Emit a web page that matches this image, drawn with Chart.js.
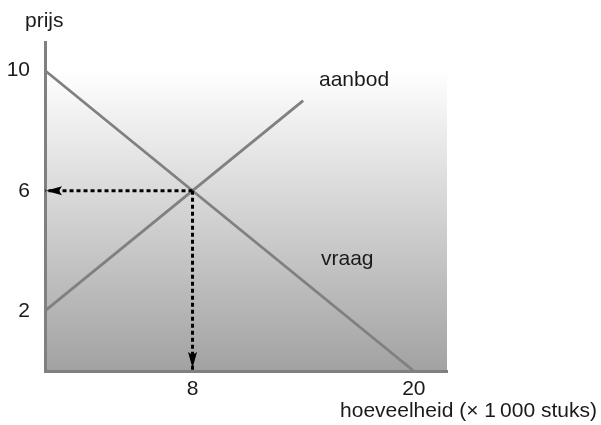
<!DOCTYPE html>
<html>
<head>
<meta charset="utf-8">
<script src="https://cdn.jsdelivr.net/npm/chart.js@4"></script>
<style>
  html, body { margin: 0; padding: 0; background: #ffffff; }
  #wrap { width: 601px; height: 425px; position: relative; }
</style>
</head>
<body>
<div id="wrap"><canvas id="c" width="601" height="425"></canvas></div>
<script>
// ---- data ----
const demandQ = [0, 20];
const demandP = [10, 0];
const supplyQ = [0, 14];
const supplyP = [2, 9];
const equilibrium = [8, 6];           // [quantity, price]
const xTicks = [8, 20];
const yTicks = [2, 6, 10];
const curveNames = ['aanbod', 'vraag'];
const yTitle = 'prijs';
const xTitle = 'hoeveelheid (\u00d7 1\u2009000 stuks)';

const FONT = '"Liberation Sans", Arial, Helvetica, sans-serif';
const LINE_GRAY = '#808080';
const TEXT = '#1a1a1a';

const toPts = (xs, ys) => xs.map((x, i) => ({ x: x, y: ys[i] }));

const gradientPlugin = {
  id: 'bgGradient',
  beforeDraw(chart) {
    const { ctx, chartArea, scales } = chart;
    const top = scales.y.getPixelForValue(10);
    const g = ctx.createLinearGradient(0, top, 0, chartArea.bottom);
    g.addColorStop(0, '#ffffff');
    g.addColorStop(1, '#a2a2a2');
    ctx.save();
    ctx.fillStyle = g;
    ctx.fillRect(chartArea.left, top, chartArea.right - chartArea.left, chartArea.bottom - top);
    ctx.restore();
  }
};

function arrowHead(ctx, tx, ty, dx, dy) {
  const len = 16, half = 4.5, notch = 3;
  const px = -dy, py = dx;
  ctx.beginPath();
  ctx.moveTo(tx, ty);
  ctx.lineTo(tx - dx * len + px * half, ty - dy * len + py * half);
  ctx.lineTo(tx - dx * (len - notch), ty - dy * (len - notch));
  ctx.lineTo(tx - dx * len - px * half, ty - dy * len - py * half);
  ctx.closePath();
  ctx.fill();
}

const annotPlugin = {
  id: 'annot',
  afterDatasetsDraw(chart) {
    const { ctx, scales } = chart;
    const x = scales.x, y = scales.y;
    ctx.save();
    ctx.fillStyle = '#000000';
    arrowHead(ctx, x.getPixelForValue(0) + 1, y.getPixelForValue(equilibrium[1]), -1, 0);
    arrowHead(ctx, x.getPixelForValue(equilibrium[0]), y.getPixelForValue(0) - 3, 0, 1);

    ctx.fillStyle = TEXT;
    ctx.font = '21px ' + FONT;
    ctx.textBaseline = 'alphabetic';
    ctx.textAlign = 'left';
    ctx.fillText(yTitle, 25, 27);
    ctx.fillText(curveNames[0], 319, 86);
    ctx.fillText(curveNames[1], 321, 265);
    ctx.textAlign = 'right';
    ctx.fillText(xTitle, 597, 417);
    ctx.restore();
  }
};

new Chart(document.getElementById('c'), {
  type: 'scatter',
  data: {
    datasets: [
      {
        label: 'p*',
        data: toPts([equilibrium[0], 0], [equilibrium[1], equilibrium[1]]),
        showLine: true, borderColor: '#000000', borderWidth: 3,
        borderDash: [4, 3], pointRadius: 0
      },
      {
        label: 'q*',
        data: toPts([equilibrium[0], equilibrium[0]], [equilibrium[1], 0]),
        showLine: true, borderColor: '#000000', borderWidth: 3,
        borderDash: [4, 3], pointRadius: 0
      },
      {
        label: curveNames[0],
        data: toPts(supplyQ, supplyP),
        showLine: true, borderColor: LINE_GRAY, borderWidth: 2.8, pointRadius: 0
      },
      {
        label: curveNames[1],
        data: toPts(demandQ, demandP),
        showLine: true, borderColor: LINE_GRAY, borderWidth: 2.8, pointRadius: 0
      }
    ]
  },
  options: {
    responsive: false,
    animation: false,
    devicePixelRatio: 1,
    layout: { padding: { top: 42, right: 154, bottom: 0, left: 0 } },
    plugins: { legend: { display: false }, tooltip: { enabled: false } },
    scales: {
      x: {
        type: 'linear', min: 0, max: 21.8,
        afterBuildTicks: s => { s.ticks = xTicks.map(v => ({ value: v })); },
        afterFit: s => { s.height = 54; },
        grid: { display: false, drawTicks: false },
        border: { display: true, color: LINE_GRAY, width: 3 },
        ticks: { padding: 6, color: TEXT, font: { family: FONT, size: 21 }, maxRotation: 0, autoSkip: false }
      },
      y: {
        type: 'linear', min: 0, max: 10.95,
        afterBuildTicks: s => { s.ticks = yTicks.map(v => ({ value: v })); },
        afterFit: s => { s.width = 45; },
        grid: { display: false, drawTicks: false },
        border: { display: true, color: LINE_GRAY, width: 3 },
        ticks: { padding: 15, color: TEXT, font: { family: FONT, size: 21 }, autoSkip: false }
      }
    }
  },
  plugins: [gradientPlugin, annotPlugin]
});
</script>
</body>
</html>
